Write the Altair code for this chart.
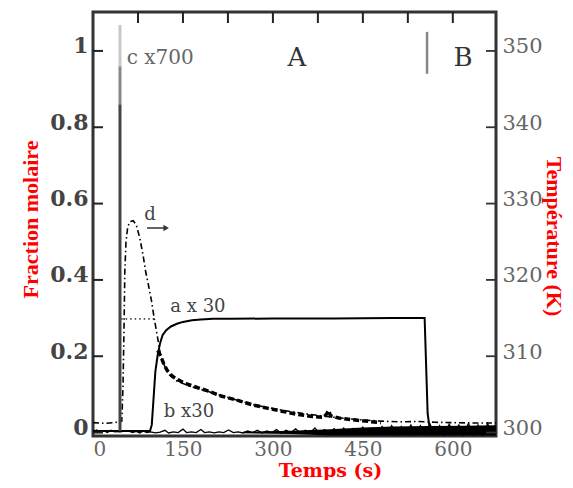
import altair as alt
import pandas as pd

# ---------------- données ----------------
x_labels = [0, 150, 300, 450, 600]
x_ticks = [75, 150, 225, 300, 375, 450, 525, 600]
frac_ticks = [0, 0.2, 0.4, 0.6, 0.8, 1.0]
temp_ticks = [300, 310, 320, 330, 340, 350]

# courbe a (x30) - trait plein
a_t = [0, 95, 98, 101, 104, 108, 112, 116, 122, 130, 140, 150, 165, 180, 200, 230,
       300, 400, 500, 553, 555, 558, 562, 672]
a_y = [0.004, 0.004, 0.02, 0.09, 0.16, 0.205, 0.235, 0.255, 0.268, 0.278, 0.285, 0.29,
       0.294, 0.296, 0.298, 0.298, 0.299, 0.299, 0.300, 0.300, 0.2, 0.05, 0.004, 0.004]
# palier pointillé de a
a_dot_t = [47, 103]
a_dot_y = [0.298, 0.298]

# courbe b (x30) - tirets épais
b_t = [108, 113, 118, 124, 132, 142, 155, 170, 190, 215, 240, 265, 290, 315, 340, 365,
       385, 390, 393, 396, 410, 430, 455, 480]
b_y = [0.215, 0.2, 0.18, 0.162, 0.148, 0.138, 0.128, 0.12, 0.11, 0.095, 0.085, 0.073,
       0.064, 0.056, 0.048, 0.042, 0.04, 0.05, 0.058, 0.044, 0.038, 0.034, 0.03, 0.026]

# courbe d - tiret-point
d_t = [0, 20, 40, 48, 50, 52, 53, 55, 58, 62, 67, 72, 78, 84, 88, 92, 97, 102, 107, 113,
       120, 128, 140, 160, 180, 200, 220, 245, 270, 300, 330, 360, 390, 420, 450, 480,
       510, 540, 570, 600, 640, 672]
d_y = [0.026, 0.024, 0.027, 0.03, 0.12, 0.3, 0.42, 0.5, 0.54, 0.553, 0.555, 0.545, 0.51,
       0.46, 0.42, 0.39, 0.35, 0.30, 0.255, 0.2, 0.172, 0.15, 0.135, 0.122, 0.113, 0.104,
       0.094, 0.083, 0.072, 0.063, 0.055, 0.048, 0.042, 0.037, 0.033, 0.03, 0.028, 0.029,
       0.027, 0.026, 0.025, 0.025]

# pic c (x700)
pic_t = [45, 45, 45]
pic_lo = [0, 0.86, 0.96]
pic_hi = [0.86, 0.96, 1.068]
pic_part = ["bas", "milieu", "haut"]

# séparation A | B
sep_t = [557]
sep_lo = [0.94]
sep_hi = [1.05]

# flèche sous « d »
fleche_t = [90]
fleche_t2 = [122]
fleche_y = [0.536]

# température (K) - signal bruité
bruit_t = [0, 6, 12, 18, 24, 30, 36, 60, 66, 72, 78, 84, 90, 96, 104, 112, 120, 126, 134,
           142, 150, 156, 164, 172, 180, 186, 194, 202, 210, 218, 226, 234, 242, 250, 258,
           266, 274, 282, 290, 298, 306, 314, 322, 330, 338, 346, 354, 362, 370, 378, 386,
           394, 402, 410, 418, 426, 434, 442, 450, 458, 466, 474, 482, 490, 498, 506, 514,
           522, 530, 538, 546, 554, 562, 570, 578, 586, 594, 602, 610, 618, 626, 634, 642,
           650, 658, 666, 672]
bruit_T = [300.1, 300.35, 300.05, 300.25, 300.0, 300.3, 300.1, 300.2, 300.0, 300.15, 299.95,
           300.2, 300.0, 300.1, 299.95, 300.05, 300.3, 299.95, 300.1, 300.0, 300.45, 300.0,
           300.1, 300.0, 300.4, 300.0, 300.1, 299.95, 300.1, 300.0, 300.35, 300.0, 300.1,
           299.95, 300.2, 300.0, 300.3, 299.95, 300.2, 300.0, 300.4, 299.9, 300.3, 300.0,
           300.5, 299.9, 300.3, 299.95, 300.6, 299.9, 300.4, 299.85, 300.5, 299.9, 300.6,
           299.8, 300.55, 299.85, 300.7, 299.8, 300.6, 299.75, 300.8, 299.8, 300.9, 299.7,
           300.8, 299.75, 301.0, 299.7, 300.9, 299.7, 301.1, 299.7, 300.9, 299.65, 301.1,
           299.7, 301.0, 299.65, 301.2, 299.7, 301.0, 299.65, 301.2, 299.7, 301.0]
bande_t = [250, 330, 395, 450, 500, 560, 620, 672]
bande_lo = [299.9, 299.8, 299.6, 299.6, 299.6, 299.6, 299.6, 299.6]
bande_hi = [300.1, 300.25, 300.45, 300.65, 300.8, 300.85, 300.9, 300.95]

# annotations
grand_txt = ["A", "B"]
grand_t = [340, 617]
grand_y = [0.982, 0.982]
moyen_txt = ["c x700"]
moyen_t = [112]
moyen_y = [0.982]
petit_txt = ["a x 30", "b x30", "d"]
petit_t = [175, 160, 95]
petit_y = [0.329, 0.054, 0.57]

# ---------------- tables ----------------
df_a = pd.DataFrame({"t": a_t, "y": a_y})
df_adot = pd.DataFrame({"t": a_dot_t, "y": a_dot_y})
df_b = pd.DataFrame({"t": b_t, "y": b_y})
df_d = pd.DataFrame({"t": d_t, "y": d_y})
df_pic = pd.DataFrame({"t": pic_t, "lo": pic_lo, "hi": pic_hi, "part": pic_part})
df_sep = pd.DataFrame({"t": sep_t, "lo": sep_lo, "hi": sep_hi})
df_fl = pd.DataFrame({"t": fleche_t, "t2": fleche_t2, "y": fleche_y})
df_bruit = pd.DataFrame({"t": bruit_t, "T": bruit_T})
df_bande = pd.DataFrame({"t": bande_t, "lo": bande_lo, "hi": bande_hi})
df_grand = pd.DataFrame({"t": grand_t, "y": grand_y, "txt": grand_txt})
df_moyen = pd.DataFrame({"t": moyen_t, "y": moyen_y, "txt": moyen_txt})
df_petit = pd.DataFrame({"t": petit_t, "y": petit_y, "txt": petit_txt})
df_xt = pd.DataFrame({"xt": x_ticks})
df_ft = pd.DataFrame({"fv": frac_ticks})
df_tt = pd.DataFrame({"tv": temp_ticks})

W, H = 403, 424
XMAX = 672
YMIN, YMAX = -0.009, 1.102
xscale = alt.Scale(domain=[0, XMAX], nice=False, zero=False)
yscale = alt.Scale(domain=[YMIN, YMAX], nice=False, zero=False)
tscale = alt.Scale(domain=[299.55, 355.1], nice=False, zero=False)

# longueurs de graduation (en unités de données : ~9-10 px)
TX = 10 * XMAX / W
TY = 11 * (YMAX - YMIN) / H

SERIF = "DejaVu Serif"

bottom_axis = alt.Axis(
    orient="bottom", values=x_labels, ticks=False, tickSize=0, domain=False, grid=False,
    labelFont=SERIF, labelFontSize=20, labelColor="#666", labelPadding=3,
    labelOverlap=False,
    title="Temps (s)", titleFont=SERIF, titleFontSize=19, titleFontWeight="bold",
    titleColor="#ff0000", titleX=237, titleY=40, titleAlign="center",
    titleBaseline="alphabetic")

left_axis = alt.Axis(
    orient="left", values=frac_ticks, format="~g", ticks=False, tickSize=0,
    domain=False, grid=False,
    labelFont=SERIF, labelFontSize=22, labelFontWeight="bold", labelColor="#444",
    labelPadding=5, labelBaseline="alphabetic", labelOffset=2,
    title="Fraction molaire", titleFont="Liberation Serif", titleFontSize=22,
    titleFontWeight="bold", titleColor="#ff0000", titleAngle=270, titleX=-56,
    titleY=207, titleAlign="center", titleBaseline="alphabetic")

right_axis = alt.Axis(
    orient="right", values=temp_ticks, ticks=False, tickSize=0,
    domain=False, grid=False,
    labelFont=SERIF, labelFontSize=21, labelColor="#666",
    labelPadding=6, labelBaseline="alphabetic", labelOffset=2,
    title="Température (K)", titleFont="Liberation Serif", titleFontSize=22,
    titleFontWeight="bold", titleColor="#ff0000", titleAngle=90, titleX=50,
    titleY=224, titleAlign="center", titleBaseline="alphabetic")


def X(field="t"):
    # même axe pour toutes les couches : fusion sans conflit
    return alt.X(field, type="quantitative", scale=xscale, axis=bottom_axis)


def Yf(field, ax=None):
    return alt.Y(field, type="quantitative", scale=yscale, axis=ax)


line_a = alt.Chart(df_a).mark_line(color="black", strokeWidth=2, clip=True).encode(
    x=X(), y=Yf("y", left_axis))
line_adot = alt.Chart(df_adot).mark_line(color="#444", strokeWidth=1.6,
                                         strokeDash=[1.5, 3]).encode(x=X(), y=Yf("y"))
line_b = alt.Chart(df_b).mark_line(color="black", strokeWidth=3.5,
                                   strokeDash=[6, 3]).encode(x=X(), y=Yf("y"))
line_d = alt.Chart(df_d).mark_line(color="black", strokeWidth=1.6,
                                   strokeDash=[6, 3, 1.5, 3]).encode(x=X(), y=Yf("y"))
pic = alt.Chart(df_pic).mark_rule(strokeWidth=3).encode(
    x=X(), y=Yf("lo"), y2="hi:Q",
    color=alt.Color("part:N", scale=alt.Scale(domain=["bas", "milieu", "haut"],
                                              range=["#444", "#888", "#c8c8c8"]),
                    legend=None))
sep = alt.Chart(df_sep).mark_rule(color="#888", strokeWidth=2.5).encode(
    x=X(), y=Yf("lo"), y2="hi:Q")
fl_line = alt.Chart(df_fl).mark_rule(color="#333", strokeWidth=1.5).encode(
    x=X(), x2="t2:Q", y=Yf("y"))
fl_head = alt.Chart(df_fl).mark_point(shape="triangle-right", filled=True, size=40,
                                      color="#333", opacity=1).encode(
    x=X("t2"), y=Yf("y"))
txt_grand = alt.Chart(df_grand).mark_text(font=SERIF, fontSize=26, color="#333",
                                          baseline="middle").encode(
    x=X(), y=Yf("y"), text="txt:N")
txt_moyen = alt.Chart(df_moyen).mark_text(font=SERIF, fontSize=20, color="#666",
                                          baseline="middle").encode(
    x=X(), y=Yf("y"), text="txt:N")
txt_petit = alt.Chart(df_petit).mark_text(font=SERIF, fontSize=18, color="#444",
                                          baseline="middle").encode(
    x=X(), y=Yf("y"), text="txt:N")

bande = alt.Chart(df_bande).mark_area(color="black", clip=True).encode(
    x=X(), y=alt.Y("lo:Q", scale=tscale, axis=right_axis), y2="hi:Q")
bruit = alt.Chart(df_bruit).mark_line(color="black", strokeWidth=1.3, clip=True).encode(
    x=X(), y=alt.Y("T:Q", scale=tscale, axis=None))

# graduations intérieures (placées par les échelles)
tick_top = alt.Chart(df_xt).mark_rule(color="#222", strokeWidth=2).encode(
    x=X("xt"),
    y=alt.YDatum(YMAX, type="quantitative", scale=yscale, axis=None),
    y2=alt.datum(YMAX - TY))
tick_left = alt.Chart(df_ft).mark_rule(color="#222", strokeWidth=2).encode(
    y=Yf("fv"),
    x=alt.XDatum(0, type="quantitative", scale=xscale, axis=bottom_axis),
    x2=alt.datum(TX))
tick_right = alt.Chart(df_tt).mark_rule(color="#333", strokeWidth=1.8).encode(
    y=alt.Y("tv:Q", scale=tscale, axis=None),
    x=alt.XDatum(XMAX - TX, type="quantitative", scale=xscale, axis=bottom_axis),
    x2=alt.datum(XMAX))

chart = alt.layer(
    line_a, line_adot, line_b, line_d, pic, sep, fl_line, fl_head,
    txt_grand, txt_moyen, txt_petit, bande, bruit, tick_top, tick_left, tick_right
).resolve_scale(y="independent").properties(
    width=W, height=H,
    autosize=alt.AutoSizeParams(type="none"),
    padding={"left": 85, "top": 4, "right": 69, "bottom": 44},
    background="white",
).configure_view(stroke="#333", strokeWidth=3)

chart.save("out.html", embed_options={"renderer": "svg", "actions": False})
